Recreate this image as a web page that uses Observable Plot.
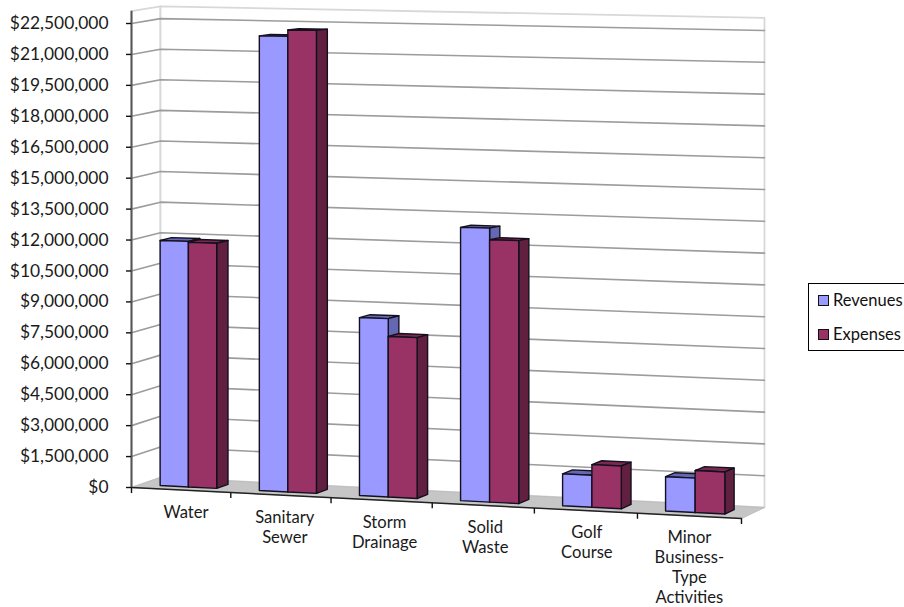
<!DOCTYPE html>
<html>
<head>
<meta charset="utf-8">
<script src="https://cdn.jsdelivr.net/npm/d3@7"></script>
<script src="https://cdn.jsdelivr.net/npm/@observablehq/plot@0.6"></script>
<style>
  html, body { margin: 0; padding: 0; background: #fff; overflow: hidden; }
  #wrap { position: relative; width: 904px; height: 607px; overflow: hidden; font-family: Lato, sans-serif; color: #111; }
  #wrap svg { display: block; }
  .legend { position: absolute; left: 808px; top: 283px; width: 120px; height: 68px; border: 1px solid #000; box-sizing: border-box; }
  .legend div { position: absolute; left: 24px; font-size: 16.5px; line-height: 18px; white-space: nowrap; }
  .legend i { position: absolute; left: -15px; top: 4px; width: 9px; height: 9px; border: 1.5px solid #111; }
</style>
</head>
<body>
<div id="wrap"></div>
<script>
// Utility fund revenues and expenses, in dollars
const categories = ["Water", "Sanitary\nSewer", "Storm\nDrainage", "Solid\nWaste", "Golf\nCourse", "Minor\nBusiness-\nType\nActivities"];
const revenues = [11900000, 21900000, 8500000, 12950000, 1500000, 1600000];
const expenses = [11850000, 22200000, 7650000, 12400000, 2000000, 1950000];
const seriesNames = ["Revenues", "Expenses"];
const yTicks = d3.range(0, 22500001, 1500000);

const faceColors = {
  Revenues: {front: "#9999ff", side: "#6468b4", top: "#6468b4"},
  Expenses: {front: "#993366", side: "#622040", top: "#7a2850"}
};

const yMax = 22500000;
const wallTop = 23100000;
const nCat = categories.length;

// Oblique view of the chart box: floor corners in axis units (categories, dollars)
// and how much a dollar is stretched at each corner.
const corner = {
  fl: {x: 0, y: 0, k: 1},
  fr: {x: 6, y: -1503000, k: 1.056},
  bl: {x: 0.285, y: 485000, k: 0.989},
  br: {x: 6.226, y: -970000, k: 1.028}
};

// Maps category position u, depth d (0 front, 1 back) and value v onto the axes.
function project(u, d, v) {
  let t = u / nCat;
  t = t - 0.028 * t * (1 - t);
  const mix = (key) => {
    const f = corner.fl[key] + (corner.fr[key] - corner.fl[key]) * t;
    const b = corner.bl[key] + (corner.br[key] - corner.bl[key]) * t;
    return f + (b - f) * d;
  };
  return {x: mix("x"), y: mix("y") + v * mix("k")};
}

function polyline(id, points, extra = {}) {
  return points.map(([u, d, v], i) => ({id, i, ...project(u, d, v), ...extra}));
}

// Back and side walls plus the floor
const walls = [
  ...polyline("left", [[0, 0, 0], [0, 1, 0], [0, 1, wallTop], [0, 0, wallTop], [0, 0, 0]]),
  ...polyline("back", [[0, 1, 0], [nCat, 1, 0], [nCat, 1, wallTop], [0, 1, wallTop], [0, 1, 0]])
];
const floor = polyline("floor", [[0, 0, 0], [nCat, 0, 0], [nCat, 1, 0], [0, 1, 0], [0, 0, 0]]);
const gridlines = yTicks.filter((v) => v > 0).flatMap((v) =>
  polyline("g" + v, [[0, 0, v], [0, 1, v], [nCat, 1, v]])
);

// Clustered bars: gap width 150%, gap depth 150%
const barWidth = 1 / 3.5;
const dFront = 0.3, dBack = 0.7;
function barFaces(cat, s, value) {
  const name = seriesNames[s];
  const u0 = cat + 0.75 * barWidth - 0.012 + s * barWidth, u1 = u0 + barWidth;
  const c = faceColors[name];
  const key = `${cat}-${name}`;
  return [
    ...polyline(key + "-top", [[u0, dFront, value], [u1, dFront, value], [u1, dBack, value], [u0, dBack, value], [u0, dFront, value]], {fillColor: c.top}),
    ...polyline(key + "-side", [[u1, dFront, 0], [u1, dBack, 0], [u1, dBack, value], [u1, dFront, value], [u1, dFront, 0]], {fillColor: c.side}),
    ...polyline(key + "-front", [[u0, dFront, 0], [u1, dFront, 0], [u1, dFront, value], [u0, dFront, value], [u0, dFront, 0]], {fillColor: c.front})
  ];
}
const bars = categories.flatMap((_, i) => [...barFaces(i, 0, revenues[i]), ...barFaces(i, 1, expenses[i])]);

const frontEdge = polyline("edge", [[0, 0, 0], [nCat, 0, 0]]);
const catTicks = d3.range(0, nCat + 1).map((u) => {
  const p = project(u, 0, 0);
  return {x: p.x, y1: p.y, y2: p.y - 270000};
});
// Labels sit a little right of the cluster centre near the left end of the axis
const catLabels = categories.map((label, i) => ({label, ...project(i + 0.5 + 0.05 * (1 - i / (nCat - 1)), 0, 0)}));

const chart = Plot.plot({
  width: 904,
  height: 607,
  marginLeft: 131,
  marginRight: 163,
  marginTop: 23,
  marginBottom: 120,
  style: {background: "transparent", fontFamily: "Lato, sans-serif", overflow: "hidden"},
  x: {domain: [0, 6], axis: null},
  y: {domain: [0, yMax], axis: null},
  color: {type: "identity"},
  marks: [
    Plot.line(walls, {x: "x", y: "y", z: "id", fill: "#fff", stroke: "#d8d8d8", strokeWidth: 1.8, curve: "linear"}),
    Plot.line(floor, {x: "x", y: "y", z: "id", fill: "#c6c6c6", stroke: "#bdbdbd", strokeWidth: 1, curve: "linear"}),
    Plot.line(gridlines, {x: "x", y: "y", z: "id", stroke: "#9c9c9c", strokeWidth: 1.6, curve: "linear"}),
    Plot.line(bars, {x: "x", y: "y", z: "id", fill: "fillColor", stroke: "#14101e", strokeWidth: 1.4, strokeLinejoin: "round", curve: "linear"}),
    Plot.line(frontEdge, {x: "x", y: "y", stroke: "#222", strokeWidth: 1.5}),
    Plot.link(catTicks, {x1: "x", x2: "x", y1: "y1", y2: "y2", stroke: "#111", strokeWidth: 1.4}),
    Plot.ruleX([0], {y1: 0, y2: wallTop, stroke: "#555", strokeWidth: 2}),
    Plot.axisY(yTicks, {
      anchor: "left",
      label: null,
      tickSize: 5,
      tickPadding: 18,
      tickFormat: (d) => "$" + d3.format(",")(d),
      fontSize: 17.4,
      stroke: "#111",
      strokeWidth: 1.4,
      fill: "#1a1a1a"
    }),
    Plot.text(catLabels, {x: "x", y: "y", text: "label", dy: 13, lineAnchor: "top", lineHeight: 1.21, fontSize: 16.6, fill: "#1a1a1a"})
  ]
});
document.getElementById("wrap").appendChild(chart);

// Series key on the right-hand side of the chart
const legend = document.createElement("div");
legend.className = "legend";
seriesNames.forEach((name, i) => {
  const row = document.createElement("div");
  row.style.top = (i === 0 ? 7 : 41) + "px";
  const swatch = document.createElement("i");
  swatch.style.background = faceColors[name].front;
  row.appendChild(swatch);
  row.appendChild(document.createTextNode(name));
  legend.appendChild(row);
});
document.getElementById("wrap").appendChild(legend);
</script>
</body>
</html>
